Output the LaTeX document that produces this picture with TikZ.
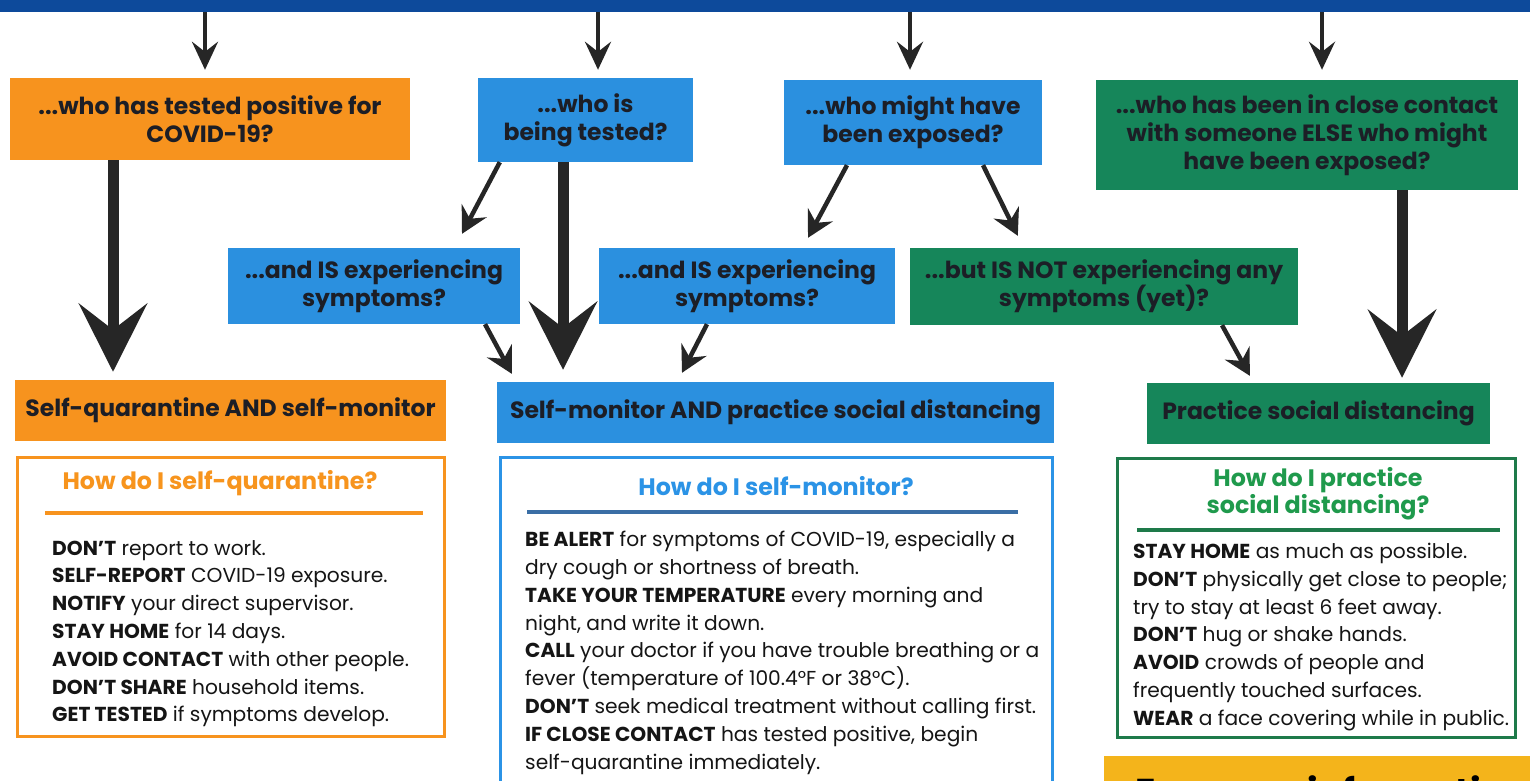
\documentclass[tikz,border=0pt]{standalone}
\usepackage{fontspec}
\setmainfont{Poppins}
\usetikzlibrary{arrows.meta}
\definecolor{barblue}{HTML}{0D4A9B}
\definecolor{orangeF}{HTML}{F7931E}
\definecolor{blueF}{HTML}{2B90DF}
\definecolor{greenF}{HTML}{16865A}
\definecolor{boxtext}{HTML}{1C1E26}
\definecolor{titleO}{HTML}{F7941D}
\definecolor{titleB}{HTML}{2B93E6}
\definecolor{titleG}{HTML}{1F9A4C}
\definecolor{lineB}{HTML}{3A6EA5}
\definecolor{lineG}{HTML}{1E7A4A}
\definecolor{yellowF}{HTML}{F4B41B}
\definecolor{bodytext}{HTML}{151515}
\tikzset{
  qbox/.style={rectangle, inner sep=0pt, align=center, text=boxtext,
    font=\fontsize{23.5}{28}\selectfont\bfseries},
  rbox/.style={rectangle, inner sep=0pt, align=center, text=boxtext,
    font=\fontsize{23.5}{28}\selectfont\bfseries},
  infobox/.style={rectangle, draw, line width=3pt, fill=white, inner sep=0pt},
  infotitle/.style={inner sep=0pt, align=center, font=\fontsize{23.8}{27}\selectfont\bfseries},
  bodyt/.style={inner sep=0pt, anchor=north west, align=left, text=bodytext,
    font=\fontsize{20.2}{27.8}\selectfont},
  toparr/.style={draw=black!85, line width=4pt, -{Stealth[length=28pt,width=26pt,inset=10pt]}},
  diagarr/.style={draw=black!85, line width=4.5pt, -{Stealth[length=26pt,width=28pt,inset=9pt]}},
  bigarr/.style={draw=black!85, line width=11pt, -{Stealth[length=68pt,width=68pt,inset=26pt]}},
  uline/.style={line width=3.5pt},
}
\begin{document}
\begin{tikzpicture}[x=1pt,y=-1pt]
\clip (0,0) rectangle (1530,781);
\fill[white] (0,0) rectangle (1530,781);
% top bar
\node[rectangle, fill=barblue, minimum width=1530pt, minimum height=12pt, inner sep=0pt] (bar) at (765,6) {};
% row 1
\node[qbox, fill=orangeF, minimum width=400pt, minimum height=82pt] (q1) at (210,119) {...who has tested positive for\\COVID-19?};
\node[qbox, fill=blueF, minimum width=215pt, minimum height=84pt] (q2) at (585.5,120) {...who is\\being tested?};
\node[qbox, fill=blueF, minimum width=258pt, minimum height=85pt] (q3) at (913,122.5) {...who might have\\been exposed?};
\node[qbox, fill=greenF, minimum width=422pt, minimum height=110pt] (q4) at (1307,135) {...who has been in close contact\\with someone ELSE who might\\have been exposed?};
% row 2
\node[qbox, fill=blueF, minimum width=292pt, minimum height=76pt] (and1) at (374,286) {...and IS experiencing\\symptoms?};
\node[qbox, fill=blueF, minimum width=296pt, minimum height=76pt] (and2) at (747,286) {...and IS experiencing\\symptoms?};
\node[qbox, fill=greenF, minimum width=388pt, minimum height=77pt] (not) at (1104,286.5) {...but IS NOT experiencing any\\symptoms (yet)?};
% row 3
\node[rbox, fill=orangeF, minimum width=431pt, minimum height=61pt] (sq) at (230.5,410.5) {Self-quarantine AND self-monitor};
\node[rbox, fill=blueF, minimum width=557pt, minimum height=61pt] (sm) at (775.5,412.5) {Self-monitor AND practice social distancing};
\node[rbox, fill=greenF, minimum width=343pt, minimum height=61pt] (sd) at (1318.5,413.5) {Practice social distancing};
% top arrows
\draw[toparr] ([xshift=-5pt]q1.north |- bar.south) -- ([xshift=-5pt,yshift=8pt]q1.north);
\draw[toparr] ([xshift=12.5pt]q2.north |- bar.south) -- ([xshift=12.5pt,yshift=8pt]q2.north);
\draw[toparr] ([xshift=-3pt]q3.north |- bar.south) -- ([xshift=-3pt,yshift=10pt]q3.north);
\draw[toparr] ([xshift=15pt]q4.north |- bar.south) -- ([xshift=15pt,yshift=10pt]q4.north);
% big arrows
\draw[bigarr] ([xshift=-97pt]q1.south) -- ([xshift=-117.5pt,yshift=8pt]sq.north);
\draw[bigarr] ([xshift=-22.5pt]q2.south) -- ([xshift=-212.5pt,yshift=12pt]sm.north);
\draw[bigarr] ([xshift=95pt]q4.south) -- ([xshift=83.5pt,yshift=5pt]sd.north);
% diagonal arrows
\draw[diagarr] ([xshift=22pt]q2.south west) -- ([xshift=88pt,yshift=14pt]and1.north);
\draw[diagarr] ([xshift=111pt]and1.south) -- ([xshift=15pt,yshift=8pt]sm.north west);
\draw[diagarr] ([xshift=-66pt]q3.south) -- ([xshift=61pt,yshift=10pt]and2.north);
\draw[diagarr] ([xshift=70pt]q3.south) -- ([xshift=108pt,yshift=12pt]not.north west);
\draw[diagarr] ([xshift=-40pt]and2.south) -- ([xshift=-93.5pt,yshift=9pt]sm.north);
\draw[diagarr] ([xshift=118pt]not.south) -- ([xshift=103pt,yshift=7pt]sd.north west);
% info boxes
\node[infobox, draw=orangeF, minimum width=427pt, minimum height=279pt] (iq) at (230.5,596.5) {};
\node[infobox, draw=titleB, minimum width=552pt, minimum height=338pt] (im) at (776,626) {};
\node[infobox, draw=lineG, minimum width=398pt, minimum height=279pt] (id) at (1316,597.5) {};
% titles
\node[infotitle, text=titleO] (tq) at (220,483) {How do I self-quarantine?};
\node[infotitle, text=titleB] (tm) at (776,486) {How do I self-monitor?};
\node[infotitle, text=titleG] (td) at (1318,493.5) {How do I practice\\social distancing?};
% underlines
\coordinate (uq1) at (45,513); \coordinate (uq2) at (423,513);
\coordinate (um1) at (527,512); \coordinate (um2) at (1018,512);
\coordinate (ud1) at (1137,530); \coordinate (ud2) at (1500,530);
\draw[uline, orangeF] (uq1) -- (uq2);
\draw[uline, lineB] (um1) -- (um2);
\draw[uline, lineG] (ud1) -- (ud2);
% bodies
\node[bodyt] (bq) at (52,540) {\textbf{DON’T} report to work.\\
\textbf{SELF-REPORT} COVID-19 exposure.\\
\textbf{NOTIFY} your direct supervisor.\\
\textbf{STAY HOME} for 14 days.\\
\textbf{AVOID CONTACT} with other people.\\
\textbf{DON’T SHARE} household items.\\
\textbf{GET TESTED} if symptoms develop.};
\node[bodyt] (bm) at (525,531) {\textbf{BE ALERT} for symptoms of COVID-19, especially a\\
dry cough or shortness of breath.\\
\textbf{TAKE YOUR TEMPERATURE} every morning and\\
night, and write it down.\\
\textbf{CALL} your doctor if you have trouble breathing or a\\
fever (temperature of 100.4°F or 38°C).\\
\textbf{DON’T} seek medical treatment without calling first.\\
\textbf{IF CLOSE CONTACT} has tested positive, begin\\
self-quarantine immediately.};
\node[bodyt] (bd) at (1133,543) {\textbf{STAY HOME} as much as possible.\\
\textbf{DON’T} physically get close to people;\\
try to stay at least 6 feet away.\\
\textbf{DON’T} hug or shake hands.\\
\textbf{AVOID} crowds of people and\\
frequently touched surfaces.\\
\textbf{WEAR} a face covering while in public.};
% yellow box at the bottom right
\node[rectangle, fill=yellowF, minimum width=440pt, minimum height=50pt, inner sep=0pt, anchor=north west] (yb) at (1104,756) {};
\node[inner sep=0pt, anchor=north west, font=\fontsize{36}{40}\selectfont\bfseries, text=black] (yt) at (1135,775) {For more information};
\end{tikzpicture}
\end{document}
